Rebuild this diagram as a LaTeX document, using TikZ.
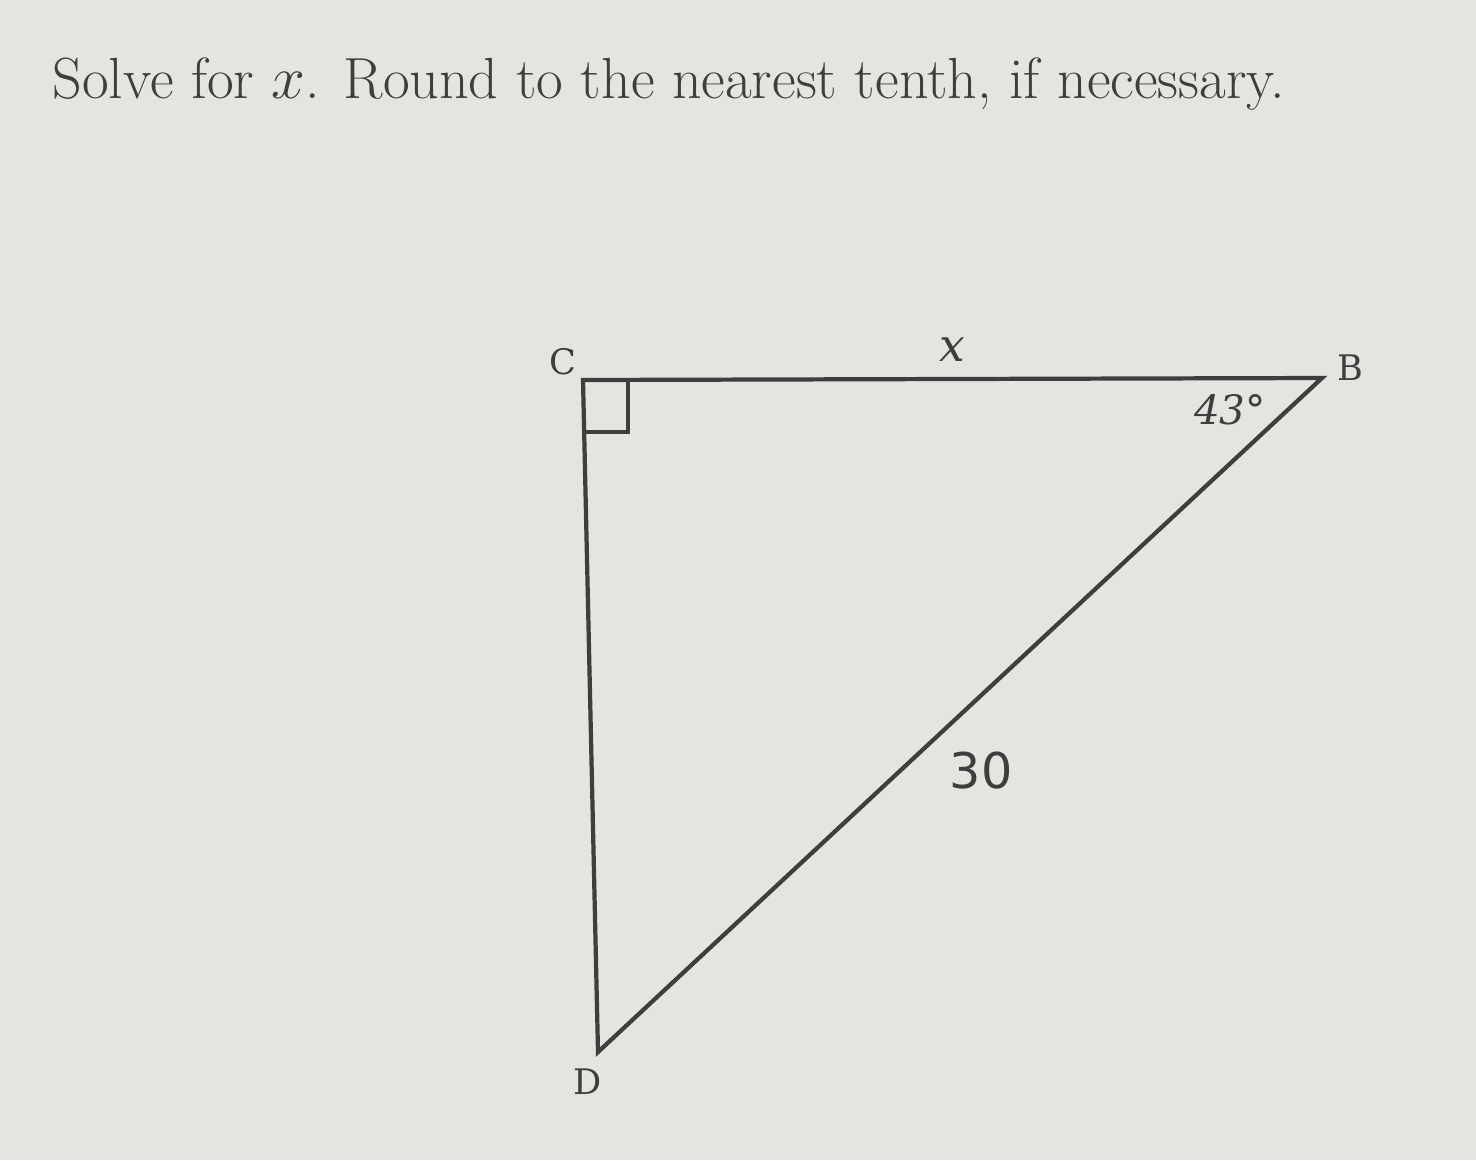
\documentclass[tikz,border=0pt]{standalone}
\usepackage{fontspec}
\usetikzlibrary{calc,positioning}
\newfontfamily\qfont{DejaVu Serif}
\newfontfamily\numfont{DejaVu Sans}
\definecolor{paper}{RGB}{228,228,224}
\definecolor{ink}{RGB}{62,62,62}
\tikzset{
  side/.style={draw=ink,line width=1.2pt,line join=miter},
  vlabel/.style={text=ink,font=\qfont\fontsize{10}{12}\selectfont,inner sep=1pt},
}
\begin{document}
\begin{tikzpicture}[x=0.01cm,y=-0.01cm]
  \useasboundingbox (0,0) rectangle (1476,1160);
  \fill[paper] (0,0) rectangle (1476,1160);
  \node[anchor=base west,inner sep=0pt,text=ink,font=\fontsize{16.5}{20}\selectfont] (title) at (52,98) {Solve for $x$. Round to the nearest tenth, if necessary.};
  \coordinate (C) at (583,380);
  \coordinate (B) at (1322,378);
  \coordinate (D) at (598,1052);
  \draw[side] (C) -- (B) -- (D) -- cycle;
  \draw[ink,line width=0.9pt] (583,432) -- (628,432) -- (628,381);
  \node[vlabel] (c) at (563,362) {C};
  \node[vlabel] (b) at (1350,368) {B};
  \node[vlabel] (d) at (588,1082) {D};
  \node[vlabel,font=\qfont\fontsize{13}{15}\selectfont\itshape] (x) at (952,350) {x};
  \node[vlabel,font=\qfont\fontsize{11.5}{14}\selectfont\itshape] (ang) at (1230,410) {43°};
  \node[vlabel,font=\numfont\fontsize{14}{16}\selectfont] (hyp) at (981,771) {30};
\end{tikzpicture}
\end{document}
